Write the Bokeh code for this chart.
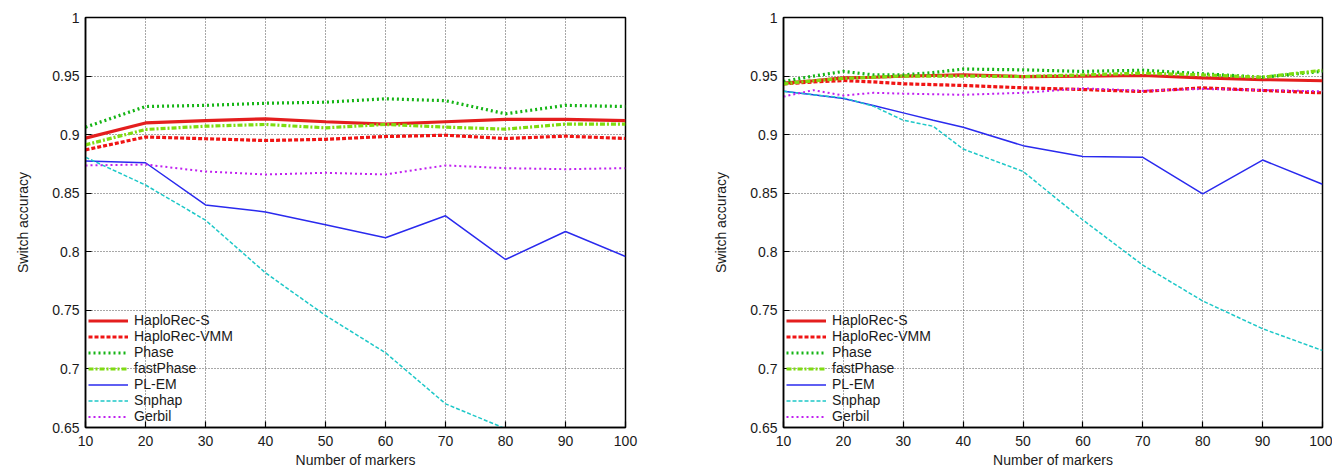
from bokeh.plotting import figure
from bokeh.models import FixedTicker, Legend, LegendItem, Range1d
from bokeh.layouts import row
from bokeh.embed import file_html
from bokeh.resources import INLINE

# ---------------- data ----------------
series_names = ["HaploRec-S", "HaploRec-VMM", "Phase", "fastPhase", "PL-EM", "Snphap", "Gerbil"]

x_left = [10, 20, 30, 40, 50, 60, 70, 80, 90, 100]
left_haplorec_s   = [0.897, 0.910, 0.912, 0.9135, 0.911, 0.909, 0.911, 0.913, 0.913, 0.912]
left_haplorec_vmm = [0.887, 0.898, 0.8965, 0.895, 0.896, 0.8984, 0.8995, 0.8967, 0.8987, 0.8967]
left_phase        = [0.9064, 0.924, 0.925, 0.9268, 0.9277, 0.9306, 0.929, 0.9178, 0.925, 0.924]
left_fastphase    = [0.8913, 0.9044, 0.9072, 0.9087, 0.9058, 0.9087, 0.9064, 0.9047, 0.909, 0.909]
left_plem         = [0.8774, 0.876, 0.840, 0.834, 0.823, 0.812, 0.8307, 0.7934, 0.8173, 0.796]
left_snphap       = [0.8807, 0.857, 0.827, 0.782, 0.7456, 0.7138, 0.6702, 0.649, 0.62, 0.60]
left_gerbil       = [0.8737, 0.8745, 0.8685, 0.866, 0.8674, 0.866, 0.8737, 0.8714, 0.8705, 0.8714]

x_right = [10, 15, 20, 25, 30, 35, 40, 50, 60, 70, 80, 90, 100]
right_haplorec_s   = [0.944, 0.946, 0.9485, 0.949, 0.950, 0.9505, 0.951, 0.9496, 0.950, 0.9505, 0.9485, 0.947, 0.946]
right_haplorec_vmm = [0.9434, 0.945, 0.9462, 0.945, 0.9434, 0.9427, 0.942, 0.940, 0.9385, 0.9368, 0.940, 0.9377, 0.9357]
right_phase        = [0.9454, 0.950, 0.954, 0.951, 0.951, 0.953, 0.956, 0.9553, 0.954, 0.955, 0.952, 0.949, 0.954]
right_fastphase    = [0.9434, 0.946, 0.948, 0.949, 0.950, 0.950, 0.950, 0.9496, 0.951, 0.9525, 0.951, 0.949, 0.955]
right_plem         = [0.9371, 0.934, 0.9309, 0.9249, 0.9186, 0.9123, 0.9063, 0.8906, 0.8814, 0.8806, 0.8494, 0.8783, 0.8577]
right_snphap       = [0.9371, 0.934, 0.9314, 0.9243, 0.9123, 0.9071, 0.8877, 0.8686, 0.8271, 0.7886, 0.758, 0.7343, 0.7157]
right_gerbil       = [0.9325, 0.938, 0.9334, 0.9357, 0.935, 0.9345, 0.934, 0.9357, 0.9395, 0.9375, 0.939, 0.938, 0.937]

x_ticks = [10, 20, 30, 40, 50, 60, 70, 80, 90, 100]
y_ticks = [0.65, 0.7, 0.75, 0.8, 0.85, 0.9, 0.95, 1.0]
x_label = "Number of markers"
y_label = "Switch accuracy"

# ---------------- styles ----------------
styles = {
    "HaploRec-S":   dict(line_color="#e41e1e", line_width=3.2, line_dash="solid"),
    "HaploRec-VMM": dict(line_color="#f01414", line_width=3.2, line_dash="4 2"),
    "Phase":        dict(line_color="#14b414", line_width=3.2, line_dash="2 3"),
    "fastPhase":    dict(line_color="#7fdc10", line_width=3.2, line_dash="5 2 2 2"),
    "PL-EM":        dict(line_color="#2a2aee", line_width=1.5, line_dash="solid"),
    "Snphap":       dict(line_color="#1ec8c8", line_width=1.5, line_dash="4 2"),
    "Gerbil":       dict(line_color="#c020f0", line_width=2.0, line_dash="2 3"),
}

FONT = "Liberation Sans"
TXT = "#1a1a1a"


def make_plot(xs, ys_list, width, border_left, border_right):
    p = figure(width=width, height=472, output_backend="svg", toolbar_location=None,
               x_range=Range1d(10, 100), y_range=Range1d(0.65, 1.0),
               min_border_left=border_left, min_border_right=border_right,
               min_border_top=17, min_border_bottom=45)
    p.background_fill_color = "white"
    p.outline_line_color = "black"
    p.outline_line_width = 1.5

    items = []
    for name, ys in zip(series_names, ys_list):
        r = p.line(xs, ys, **styles[name])
        items.append(LegendItem(label=name, renderers=[r]))

    for ax in p.xaxis:
        ax.ticker = FixedTicker(ticks=x_ticks)
        ax.axis_label = x_label
    for ax in p.yaxis:
        ax.ticker = FixedTicker(ticks=y_ticks)
        ax.major_label_overrides = {t: f"{t:g}" for t in y_ticks}
        ax.axis_label = y_label
    for ax in list(p.xaxis) + list(p.yaxis):
        ax.axis_line_color = "black"
        ax.axis_line_width = 1.5
        ax.major_tick_in = 6
        ax.major_tick_out = 0
        ax.major_tick_line_color = "black"
        ax.major_tick_line_width = 1.2
        ax.minor_tick_line_color = None
        ax.major_label_text_font = FONT
        ax.major_label_text_font_size = "14px"
        ax.major_label_text_color = TXT
        ax.axis_label_text_font = FONT
        ax.axis_label_text_font_size = "14px"
        ax.axis_label_text_font_style = "normal"
        ax.axis_label_text_color = TXT
    p.xaxis.major_label_standoff = 8
    p.xaxis.axis_label_standoff = 3
    p.yaxis.major_label_standoff = 6
    p.yaxis.axis_label_standoff = 18

    for g in (p.xgrid, p.ygrid):
        g.grid_line_color = "#333333"
        g.grid_line_dash = "1 2"
        g.grid_line_width = 1
        g.grid_line_alpha = 0.85

    legend = Legend(items=items, location="bottom_left")
    legend.label_text_font = FONT
    legend.label_text_font_size = "14px"
    legend.label_text_color = TXT
    legend.label_height = 15
    legend.glyph_height = 15
    legend.glyph_width = 40
    legend.spacing = 0
    legend.padding = 2
    legend.margin = 3
    legend.label_standoff = 6
    legend.border_line_color = None
    legend.background_fill_alpha = 0
    p.add_layout(legend)
    return p


p1 = make_plot(x_left, [left_haplorec_s, left_haplorec_vmm, left_phase, left_fastphase,
                        left_plem, left_snphap, left_gerbil], 695, 85, 70)
p2 = make_plot(x_right, [right_haplorec_s, right_haplorec_vmm, right_phase, right_fastphase,
                         right_plem, right_snphap, right_gerbil], 637, 88, 10)

layout = row(p1, p2)
open("out.html", "w").write(file_html(layout, INLINE))
